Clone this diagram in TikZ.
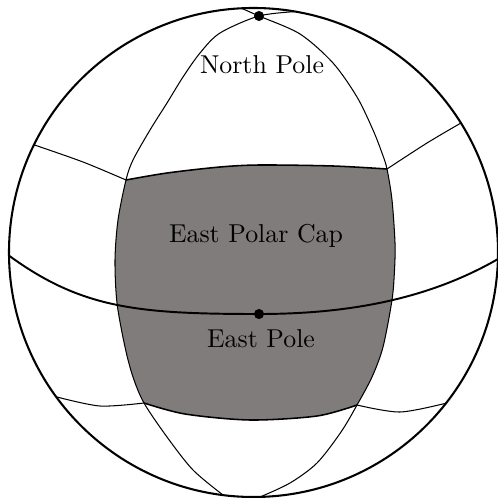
\documentclass[tikz,border=0pt]{standalone}
\usepackage{xcolor}
\usepackage{tikz}
\usetikzlibrary{calc}
\definecolor{globeCap}{RGB}{128,124,123}
\tikzset{
  globe/outline/.style={draw=black, line width=0.8pt},
  globe/grid/.style={draw=black, line width=0.4pt},
  globe/equator/.style={draw=black, line width=0.75pt},
  globe/cap edge/.style={draw=black, line width=0.6pt},
  globe/cap/.style={fill=globeCap},
  globe/pole/.style={circle, fill=black, inner sep=0pt, minimum size=3.9pt},
  globe/lbl/.style={font=\normalsize, anchor=base},
}

\begin{document}
\begin{tikzpicture}[x=0.387pt, y=-0.387pt]
  \useasboundingbox (0,0) rectangle (497,498);

  \coordinate (centre) at (253.5,252.5);
  \coordinate (np) at (259,16);
  \coordinate (ep) at (259,314);

  % corners of the cap
  \coordinate (tl) at (126,180);
  \coordinate (tr) at (387,169);
  \coordinate (bl) at (144,403);
  \coordinate (br) at (357,405);

  % ---------------- cap ----------------
  \fill[globe/cap]
    plot[smooth] coordinates {(tl) (167,173) (220,167) (260,165) (333,166) (tr)}
    -- plot[smooth] coordinates {(tr) (392,200) (395,243) (394.5,270) (392,300) (383,347) (372,377) (br)}
    -- plot[smooth] coordinates {(br) (317,416) (250,420) (185,414) (bl)}
    -- plot[smooth] coordinates {(bl) (133,377) (125,347) (117,303) (115,260) (118,220) (tl)}
    -- cycle;
  \draw[globe/cap edge] plot[smooth] coordinates {(tl) (167,173) (220,167) (260,165) (333,166) (tr)};
  \draw[globe/cap edge] plot[smooth] coordinates {(br) (317,416) (250,420) (185,414) (bl)};

  % ---------------- meridians ----------------
  \draw[globe/grid] plot[smooth] coordinates {(297,11.5) (np) (220,33) (200,53) (183,77) (167,103)
    (150,130) (133,160) (tl) (118,220) (115,260) (117,303) (125,347) (133,377) (bl)
    (167,437) (193,470) (223,495)};
  \draw[globe/grid] plot[smooth] coordinates {(242,8.5) (np) (300,34) (333,63) (357,97) (373,130)
    (382,153) (tr) (392,200) (395,243) (394.5,270) (392,300) (383,347) (372,377) (br)
    (341,432) (317,463) (290,483) (260,497)};

  % ---------------- side pieces ----------------
  \draw[globe/grid] plot[smooth] coordinates {(34.5,145) (83,162) (tl)};
  \draw[globe/grid] plot[smooth] coordinates {(tr) (427,143) (461,123)};
  \draw[globe/grid] plot[smooth] coordinates {(57,397) (100,406) (bl)};
  \draw[globe/grid] plot[smooth] coordinates {(br) (400,412) (446.7,403)};

  % ---------------- equator ----------------
  \draw[globe/equator] (9.5,256) .. controls (82.3,308.9) and (139,314) .. (ep)
    .. controls (349,314) and (428.7,299) .. (498,259);

  % ---------------- sphere ----------------
  \draw[globe/outline] (centre) circle[radius=244.5];

  % ---------------- poles ----------------
  \node[globe/pole] (north) at (np) {};
  \node[globe/pole] (east) at (ep) {};

  \node[globe/lbl] (northlbl) at (262,74) {North Pole};
  \node[globe/lbl] (caplbl) at (256,243) {East Polar Cap};
  \node[globe/lbl] (eastlbl) at (261,347) {East Pole};

\end{tikzpicture}
\end{document}
